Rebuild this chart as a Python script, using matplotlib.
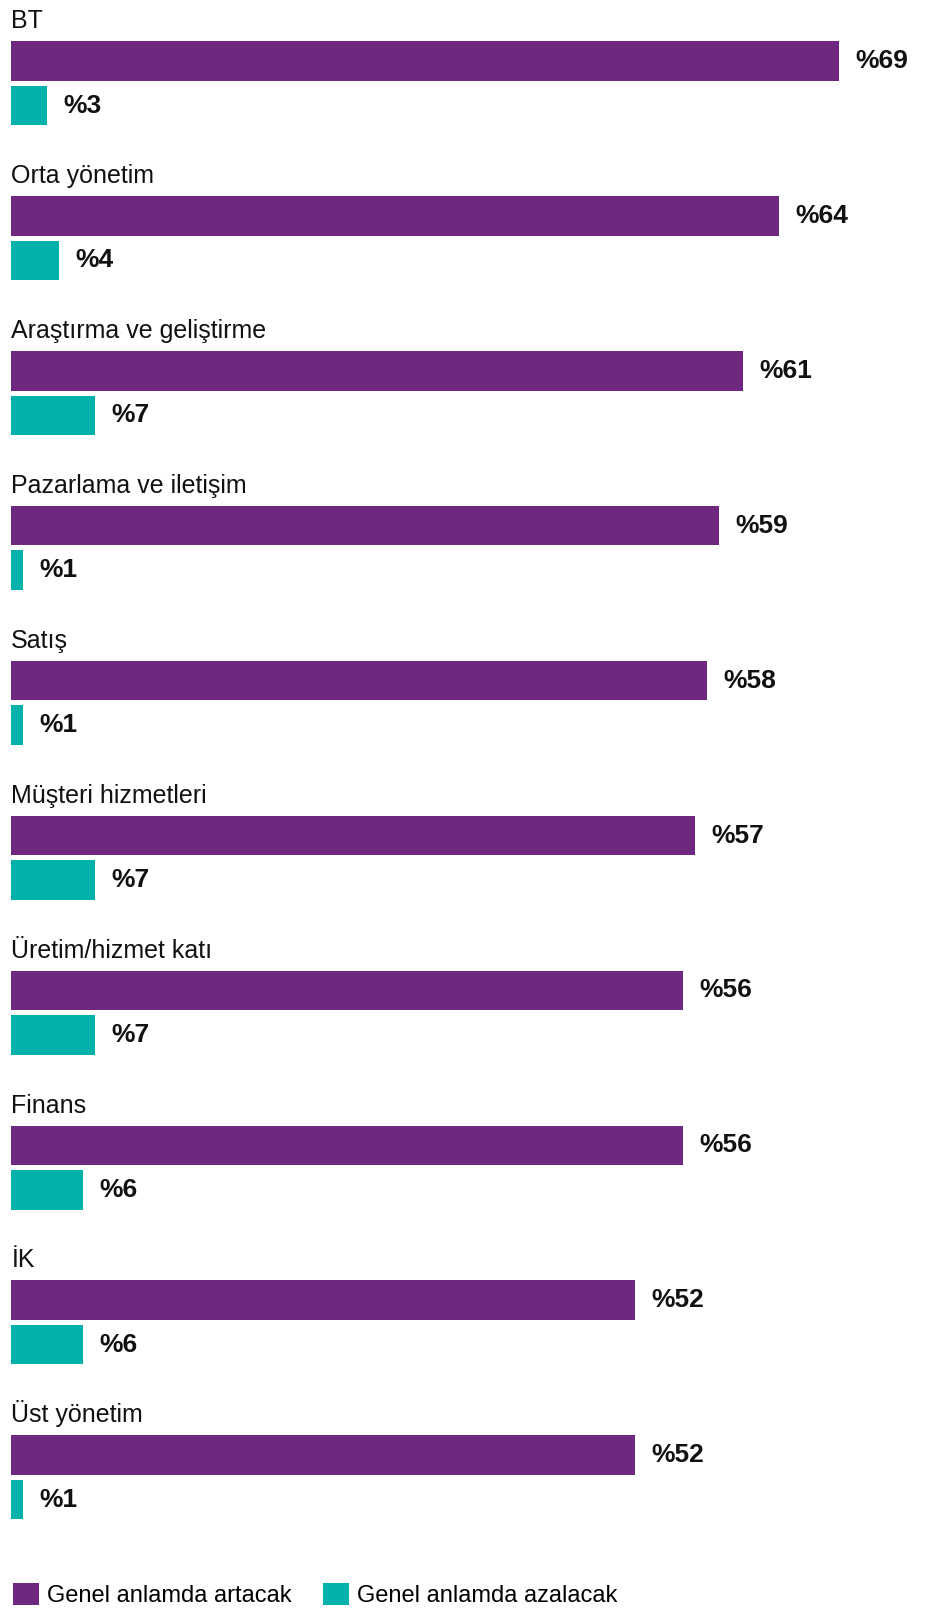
"""
Departman bazinda degisim beklentisi - yatay cubuk grafik
"""
import matplotlib.pyplot as plt
import numpy as np

categories = ['BT', 'Orta yönetim', 'Araştırma ve geliştirme', 'Pazarlama ve iletişim',
              'Satış', 'Müşteri hizmetleri', 'Üretim/hizmet katı', 'Finans', 'İK', 'Üst yönetim']
increase = [69, 64, 61, 59, 58, 57, 56, 56, 52, 52]
decrease = [3, 4, 7, 1, 1, 7, 7, 6, 6, 1]
series_names = ['Genel anlamda artacak', 'Genel anlamda azalacak']

C = {'purple': '#6F2880', 'teal': '#00B2A9', 'text': '#111111'}
FONT = ['Liberation Sans', 'DejaVu Sans']

W, H = 925, 1609
PITCH = 154.9          # px per category group
BAR_H = 39.5 / PITCH   # bar height in data units
GAP = 5 / PITCH
PX_PER_PCT = 12.0

plt.rcParams['font.family'] = FONT

fig = plt.figure(figsize=(W / 100, H / 100), dpi=100)
left = 11.3 / W
ax = fig.add_axes([left, 0, 1 - left, 1])
ax.set_xlim(0, (W - 11.3) / PX_PER_PCT)
top_c = 61 / PITCH
ax.set_ylim((H - 61) / PITCH, -top_c)
ax.axis('off')

y = np.arange(len(categories))
y_dec = y + BAR_H + GAP

b1 = ax.barh(y, increase, height=BAR_H, color=C['purple'], label=series_names[0])
b2 = ax.barh(y_dec, decrease, height=BAR_H, color=C['teal'], label=series_names[1])

off = 16.5 / PX_PER_PCT
for yi, v in zip(y, increase):
    ax.text(v + off, yi, f'%{v}', va='center', ha='left', fontsize=19,
            fontweight='bold', color=C['text'])
for yi, v in zip(y_dec, decrease):
    ax.text(v + off, yi, f'%{v}', va='center', ha='left', fontsize=19,
            fontweight='bold', color=C['text'])

for yi, name in zip(y, categories):
    ax.text(0, yi - BAR_H / 2 - 13 / PITCH, name, va='baseline', ha='left',
            fontsize=18, color=C['text'])

fig.legend(handles=[b1, b2], labels=series_names, loc='center left',
           bbox_to_anchor=(13 / W, 1 - 1595 / H), ncol=2, frameon=False,
           fontsize=17, handlelength=1.1, handleheight=1.1, handletextpad=0.35,
           columnspacing=1.3, borderpad=0, borderaxespad=0)

fig.savefig('out.png', dpi=100, facecolor='white')
